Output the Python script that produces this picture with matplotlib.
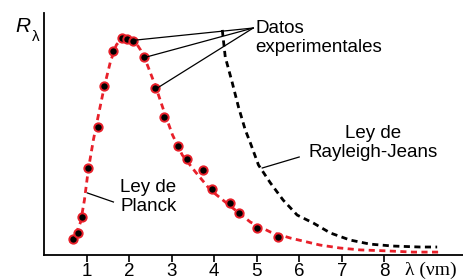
import matplotlib
matplotlib.use("Agg")
import matplotlib.pyplot as plt

# Experimental data points (wavelength, intensity in arbitrary units)
data_x = [0.67, 0.79, 0.90, 1.04, 1.26, 1.42, 1.63, 1.84, 1.96, 2.10, 2.34,
          2.62, 2.81, 3.16, 3.35, 3.74, 3.96, 4.38, 4.59, 5.01, 5.51]
data_y = [6.6, 9.1, 15.7, 36.0, 52.9, 69.8, 84.3, 89.7, 89.3, 88.4, 81.8,
          69.0, 57.0, 45.0, 39.7, 35.1, 27.3, 21.5, 17.4, 11.2, 7.4]

# Planck curve
planck_x = [0.62, 0.74, 0.86, 0.95, 1.04, 1.16, 1.28, 1.42, 1.56, 1.70, 1.84,
            1.98, 2.12, 2.27, 2.43, 2.62, 2.81, 3.02, 3.25, 3.56, 3.91, 4.38,
            4.85, 5.32, 5.79, 6.49, 6.95, 7.43, 8.06, 8.67, 9.28]
planck_y = [5.0, 8.3, 13.6, 22.7, 35.1, 47.5, 57.9, 69.8, 79.8, 86.8, 89.7,
            90.1, 88.8, 84.7, 78.5, 69.8, 59.9, 49.6, 41.3, 34.3, 26.9, 20.2,
            13.6, 9.5, 7.0, 4.1, 2.9, 2.1, 1.7, 1.2, 1.2]

# Rayleigh-Jeans curve
rj_x = [4.19, 4.26, 4.42, 4.57, 4.73, 4.85, 5.04, 5.32, 5.62, 5.95, 6.33,
        6.73, 7.19, 7.66, 8.20, 8.84, 9.24]
rj_y = [93.0, 81.8, 71.5, 61.2, 51.7, 46.3, 37.2, 29.8, 22.7, 16.5, 13.2,
        9.1, 6.2, 4.5, 3.7, 3.3, 3.3]

xticks = [1, 2, 3, 4, 5, 6, 7, 8]

RED = "#e8202a"
FONT = "Liberation Sans"
FS = 13.5

W, H = 464, 279
fig = plt.figure(figsize=(W / 100, H / 100), dpi=100)
ax = fig.add_axes([44 / W, 24 / H, (W - 44) / W, (255 - 13) / H])

ax.plot(planck_x, planck_y, color=RED, lw=2.0, dashes=(2.2, 1.6), zorder=2)
ax.plot(rj_x, rj_y, color="black", lw=2.0, dashes=(2.2, 1.6), zorder=2)
ax.plot(data_x, data_y, "o", ms=6.0, mfc="black", mec=RED, mew=1.4,
        zorder=3, linestyle="none")

ax.set_xlim(0, (W - 43.5) / 42.6)
ax.set_ylim(0, 100)
ax.spines["top"].set_visible(False)
ax.spines["right"].set_visible(False)
ax.spines["left"].set_linewidth(1.3)
ax.spines["bottom"].set_linewidth(1.3)
ax.set_yticks([])
ax.set_xticks(xticks)
ax.set_xticklabels([str(t) for t in xticks], fontfamily=FONT, fontsize=FS)
ax.tick_params(axis="x", direction="out", length=5, width=1.2, pad=1)


def px(x, y):
    return ((x - 43.5) / 42.6, (255 - y) / 2.42)


# Datos experimentales
tx, ty = px(253, 28)
for (a, b) in [(136, 40), (146, 57), (157, 88)]:
    ax.plot([px(a, b)[0], tx], [px(a, b)[1], ty], color="black", lw=0.9,
            zorder=4)
ax.text(*px(255, 38), "Datos\nexperimentales", fontfamily=FONT, fontsize=FS,
        ha="left", va="center", linespacing=1.15)

# Rayleigh-Jeans label
a0, a1 = px(262, 168), px(299, 157)
ax.plot([a0[0], a1[0]], [a0[1], a1[1]], color="black", lw=0.9)
ax.text(*px(373, 143), "Ley de\nRayleigh-Jeans", fontfamily=FONT, fontsize=FS,
        ha="center", va="center", linespacing=1.15)

# Planck label
b0, b1 = px(87, 193), px(113, 202)
ax.plot([b0[0], b1[0]], [b0[1], b1[1]], color="black", lw=0.9)
ax.text(*px(148, 197), "Ley de\nPlanck", fontfamily=FONT, fontsize=FS,
        ha="center", va="center", linespacing=1.15)

# axis labels
fig.text(15 / W, 1 - 27 / H, "R", fontfamily=FONT, fontstyle="italic",
         fontsize=15, ha="left", va="center")
fig.text(32 / W, 1 - 37 / H, "λ", fontfamily=FONT, fontsize=11,
         ha="left", va="center")
fig.text(405 / W, 1 - 270 / H, "λ (νm)", fontfamily="Liberation Serif",
         fontsize=14, ha="left", va="center")

fig.savefig("out.png", dpi=100)
